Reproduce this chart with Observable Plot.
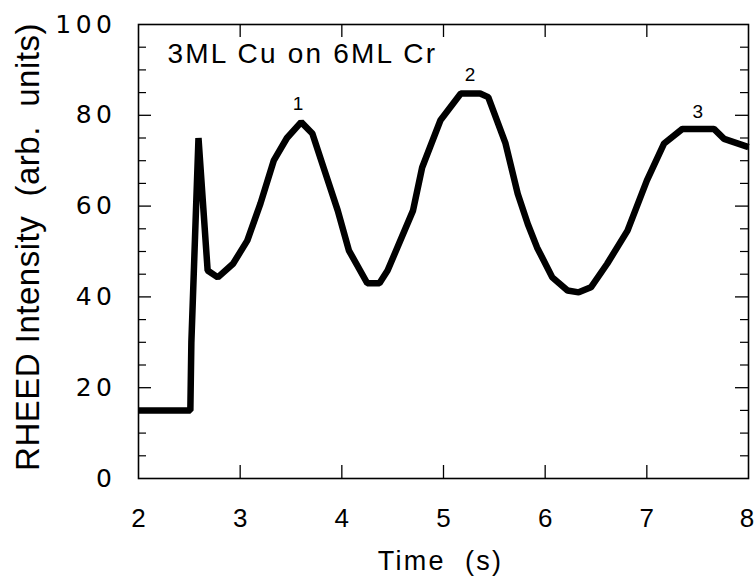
<!DOCTYPE html>
<html>
<head>
<meta charset="utf-8">
<script src="https://cdn.jsdelivr.net/npm/d3@7"></script>
<script src="https://cdn.jsdelivr.net/npm/@observablehq/plot@0.6"></script>
<style>
  html, body { margin: 0; padding: 0; background: white; }
  svg text { white-space: pre; }
  g[aria-label^="y-axis"] text {
    font-family: "DejaVu Sans", sans-serif;
    font-size: 25px;
    letter-spacing: 4.5px;
  }
  g[aria-label^="x-axis"] text {
    font-family: "Liberation Sans", Arial, sans-serif;
    font-size: 26px;
  }
</style>
</head>
<body>
<div id="chart"></div>
<script>
const time = [2, 2.51, 2.52, 2.59, 2.68, 2.78, 2.93, 3.07, 3.2, 3.33, 3.46, 3.6, 3.71, 3.82, 3.96, 4.07, 4.25, 4.37, 4.45, 4.7, 4.79, 4.97, 5.17, 5.36, 5.44, 5.61, 5.73, 5.83, 5.92, 6.07, 6.22, 6.33, 6.45, 6.61, 6.81, 7.0, 7.17, 7.35, 7.66, 7.76, 8.0];
const intensity = [15, 15, 30, 75, 45.8, 44.3, 47.3, 52.4, 60.6, 70, 75, 78.5, 76, 68.5, 59, 50.2, 43, 43, 45.8, 59, 68.5, 78.9, 84.8, 84.8, 84, 73.8, 62.7, 56, 50.9, 44.3, 41.4, 41, 42.1, 47.3, 54.6, 65.6, 73.8, 77, 77, 74.8, 73];

const peakLabels = ["1", "2", "3"];
const peakTime = [3.57, 5.26, 7.5];
const peakLevel = [82.6, 88.8, 80.8];

const xTicks = [2, 3, 4, 5, 6, 7, 8];
const yTicks = [0, 20, 40, 60, 80, 100];
const xInnerTicks = [3, 4, 5, 6, 7];
const yInnerMajor = [20, 40, 60, 80];
const yMinor = [5, 10, 15, 25, 30, 35, 45, 50, 55, 65, 70, 75, 85, 90, 95];

const titleText = "3ML Cu on 6ML Cr";
const xTitle = "Time  (s)";
const yTitle = "RHEED Intensity  (arb.  units)";

const data = time.map((t, i) => ({t, v: intensity[i]}));
const peaks = peakLabels.map((s, i) => ({s, t: peakTime[i], v: peakLevel[i]}));

const W = 755, H = 578, ML = 138, MR = 7, MT = 24, MB = 100;
const PW = W - ML - MR, PH = H - MT - MB;

const chart = Plot.plot({
  width: W, height: H,
  marginLeft: ML, marginRight: MR, marginTop: MT, marginBottom: MB,
  style: {fontFamily: "'Liberation Sans', Arial, sans-serif", background: "white", color: "black"},
  x: {domain: [2, 8], ticks: xTicks, tickFormat: d3.format("d"), tickSize: 0, tickPadding: 30, label: null},
  y: {domain: [0, 100], ticks: yTicks, tickFormat: d3.format("d"), tickSize: 0, tickPadding: 22, label: null},
  marks: [
    Plot.frame({stroke: "black", strokeWidth: 1.6}),
    Plot.tickX(xInnerTicks, {x: d => d, insetTop: PH - 13, strokeWidth: 1.3}),
    Plot.tickX(xInnerTicks, {x: d => d, insetBottom: PH - 13, strokeWidth: 1.3}),
    Plot.tickY(yInnerMajor, {y: d => d, insetRight: PW - 13, strokeWidth: 1.3}),
    Plot.tickY(yInnerMajor, {y: d => d, insetLeft: PW - 13, strokeWidth: 1.3}),
    Plot.tickY(yMinor, {y: d => d, insetRight: PW - 8, strokeWidth: 1.2}),
    Plot.tickY(yMinor, {y: d => d, insetLeft: PW - 8, strokeWidth: 1.2}),
    Plot.line(data, {x: "t", y: "v", stroke: "black", strokeWidth: 6.5, strokeLinejoin: "miter", strokeLinecap: "butt"}),
    Plot.text(peaks, {x: "t", y: "v", text: "s", fontSize: 19, lineAnchor: "middle", fill: "black"}),
    Plot.text([titleText], {text: d => d, frameAnchor: "top-left", dx: 29, dy: 19, lineAnchor: "top", textAnchor: "start", fontSize: 28, fill: "black"}),
    Plot.text([xTitle], {text: d => d, frameAnchor: "bottom", textAnchor: "middle", dx: -3, dy: 82.5, lineAnchor: "middle", fontSize: 27, fill: "black"}),
    Plot.text([yTitle], {text: d => d, frameAnchor: "left", textAnchor: "middle", dx: -110.5, dy: -4.5, rotate: -90, lineAnchor: "middle", fontSize: 33, fill: "black"})
  ]
});

chart.querySelectorAll("text").forEach(el => {
  const s = el.textContent;
  if (s === titleText) el.style.letterSpacing = "2.2px";
  if (s === xTitle) el.style.letterSpacing = "2.2px";
  if (s === yTitle) el.style.letterSpacing = "0.5px";
});
chart.querySelectorAll('g[aria-label^="x-axis"] text').forEach(el => {
  if (el.textContent === "8") el.setAttribute("dx", "-1.5");
});

document.getElementById("chart").appendChild(chart);
</script>
</body>
</html>
